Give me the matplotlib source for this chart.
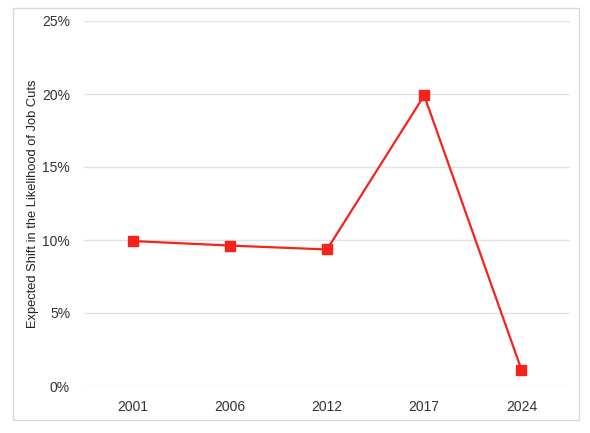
import matplotlib
matplotlib.use("Agg")
import matplotlib.pyplot as plt
from matplotlib.patches import Rectangle
from matplotlib.ticker import PercentFormatter

years = ["2001", "2006", "2012", "2017", "2024"]
values = [9.93, 9.62, 9.35, 19.9, 1.13]
yticks = [0, 5, 10, 15, 20, 25]

plt.rcParams['font.family'] = ['Liberation Sans', 'DejaVu Sans']

fig = plt.figure(figsize=(5.9, 4.33), dpi=100)
ax = fig.add_axes([84/590, 1-386/433, (570-84)/590, (386-21)/433])

x = list(range(len(years)))
ax.plot(x, values, color='#f5231b', lw=1.6, marker='s', markersize=6.5, zorder=3)

ax.set_xlim(-0.5, len(years)-0.5)
ax.set_ylim(0, 25)
ax.set_xticks(x)
ax.set_xticklabels(years)
ax.set_yticks(yticks)
ax.yaxis.set_major_formatter(PercentFormatter(decimals=0))
for s in ax.spines.values():
    s.set_visible(False)
ax.tick_params(length=0, labelsize=10, colors='#333333')
ax.tick_params(axis='x', pad=10)
ax.tick_params(axis='y', pad=10)
ax.grid(axis='y', color='#e3e3e3', lw=1)
ax.set_axisbelow(True)
ax.set_ylabel("Expected Shift in the Likelihood of Job Cuts", fontsize=9.3, color='#222222', labelpad=2)

fig.patches.append(Rectangle((13/590, 1-420/433), 566/590, 412/433, transform=fig.transFigure,
                             fill=False, edgecolor='#d9d9d9', lw=1))

fig.savefig("out.png", dpi=100)
